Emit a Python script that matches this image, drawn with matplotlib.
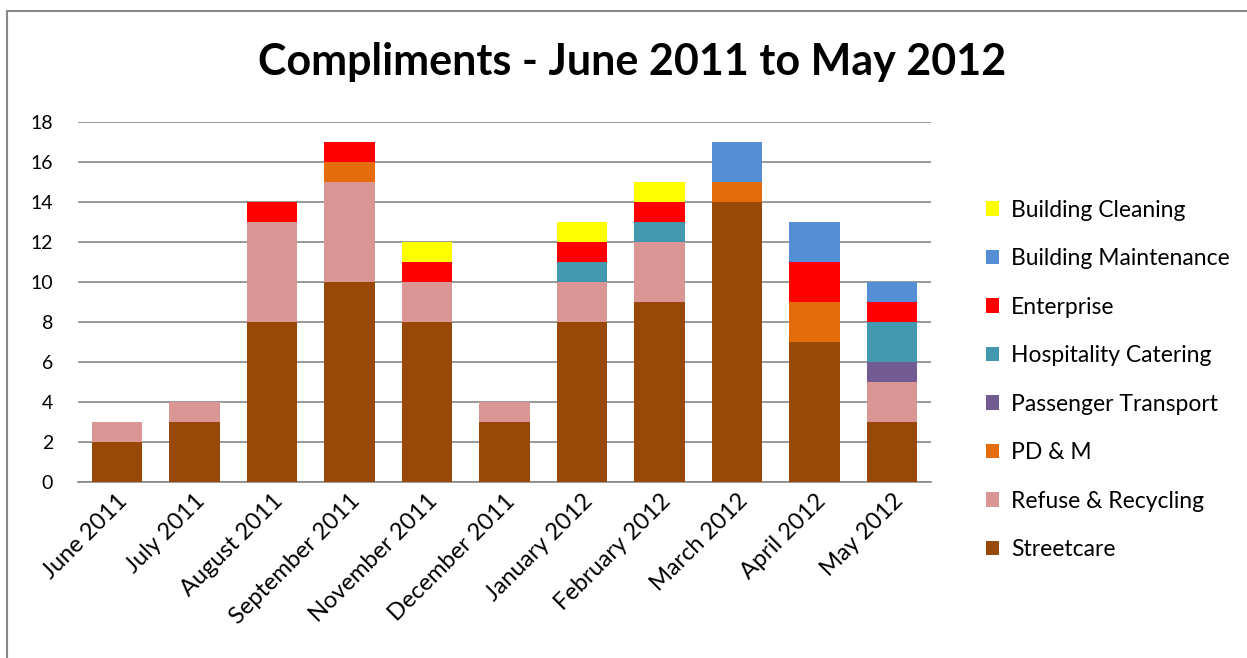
import numpy as np
import matplotlib.pyplot as plt
from matplotlib.patches import Rectangle

months = ['June 2011', 'July 2011', 'August 2011', 'September 2011', 'November 2011',
          'December 2011', 'January 2012', 'February 2012', 'March 2012', 'April 2012', 'May 2012']

# series, bottom to top
streetcare = [2, 3, 8, 10, 8, 3, 8, 9, 14, 7, 3]
refuse = [1, 1, 5, 5, 2, 1, 2, 3, 0, 0, 2]
pdm = [0, 0, 0, 1, 0, 0, 0, 0, 1, 2, 0]
passenger = [0, 0, 0, 0, 0, 0, 0, 0, 0, 0, 1]
hospitality = [0, 0, 0, 0, 0, 0, 1, 1, 0, 0, 2]
enterprise = [0, 0, 1, 1, 1, 0, 1, 1, 0, 2, 1]
maintenance = [0, 0, 0, 0, 0, 0, 0, 0, 2, 2, 1]
cleaning = [0, 0, 0, 0, 1, 0, 1, 1, 0, 0, 0]

series = [
    ('Streetcare', streetcare, '#984807'),
    ('Refuse & Recycling', refuse, '#D99694'),
    ('PD & M', pdm, '#E46C0A'),
    ('Passenger Transport', passenger, '#725B91'),
    ('Hospitality Catering', hospitality, '#4298AE'),
    ('Enterprise', enterprise, '#FF0000'),
    ('Building Maintenance', maintenance, '#558ED5'),
    ('Building Cleaning', cleaning, '#FFFF00'),
]

plt.rcParams['font.family'] = ['Lato', 'DejaVu Sans']

fig = plt.figure(figsize=(12.47, 6.58), dpi=100)
fig.patches.append(Rectangle((7 / 1247, -0.1), 1.2, 1 - 11 / 658 + 0.1,
                             transform=fig.transFigure, fill=False,
                             edgecolor='#888888', linewidth=1.5))

ax = fig.add_axes([78 / 1247, 1 - 482 / 658, 853 / 1247, 360 / 658])
x = np.arange(len(months))
bottom = np.zeros(len(months))
handles = []
for name, vals, col in series:
    h = ax.bar(x, vals, 0.65, bottom=bottom, color=col, label=name, zorder=3)
    handles.append(h)
    bottom += np.array(vals)

ax.set_xlim(-0.5, len(months) - 0.5)
ax.set_ylim(0, 18)
ax.set_yticks(range(0, 19, 2))
ax.yaxis.grid(True, color='#888888', linewidth=1.2, zorder=0)
ax.tick_params(axis='y', length=0, labelsize=14, pad=18)
ax.tick_params(axis='x', length=0, labelsize=17, pad=6)
ax.set_xticks(x)
ax.set_xticklabels(months, rotation=45, ha='right', rotation_mode='anchor')
for s in ['top', 'right', 'left']:
    ax.spines[s].set_visible(False)
ax.spines['bottom'].set_color('#888888')
ax.spines['bottom'].set_linewidth(1.2)

fig.text(632 / 1247, 1 - 62 / 658, 'Compliments - June 2011 to May 2012',
         ha='center', va='center', fontsize=31, fontweight='bold')

fig.legend(handles[::-1], [s[0] for s in series][::-1], loc='center left',
           bbox_to_anchor=(965 / 1247, 1 - 380 / 658), frameon=False,
           fontsize=16.5, handlelength=0.6, handleheight=0.6, labelspacing=1.2,
           handletextpad=0.5)

fig.savefig('out.png', dpi=100)
